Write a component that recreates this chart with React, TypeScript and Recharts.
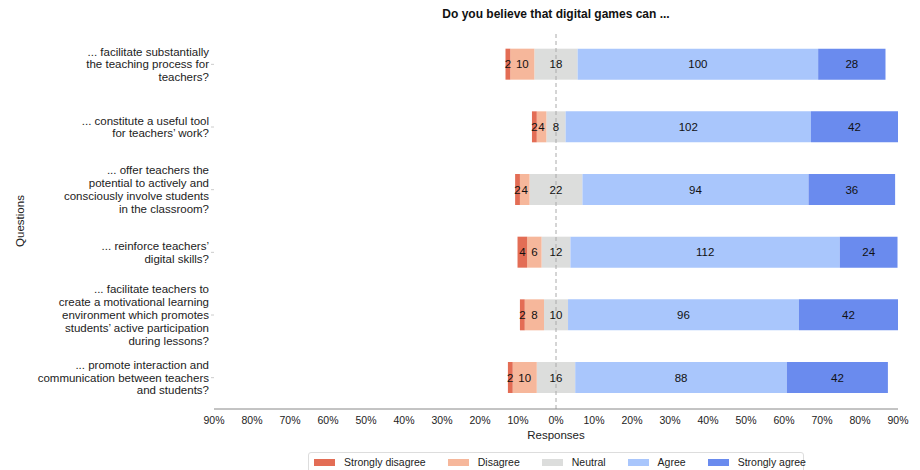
import React from 'react';
import { BarChart, Bar, XAxis, YAxis, LabelList, ReferenceLine } from 'recharts';

const questions = [
  '... facilitate substantially\nthe teaching process for\nteachers?',
  '... constitute a useful tool\nfor teachers\u2019 work?',
  '... offer teachers the\npotential to actively and\nconsciously involve students\nin the classroom?',
  '... reinforce teachers\u2019\ndigital skills?',
  '... facilitate teachers to\ncreate a motivational learning\nenvironment which promotes\nstudents\u2019 active participation\nduring lessons?',
  '... promote interaction and\ncommunication between teachers\nand students?',
];

const stronglyDisagree = [2, 2, 2, 4, 2, 2];
const disagree = [10, 4, 4, 6, 8, 10];
const neutral = [18, 8, 22, 12, 10, 16];
const agree = [100, 102, 94, 112, 96, 88];
const stronglyAgree = [28, 42, 36, 24, 42, 42];

const xTicks = [-90, -80, -70, -60, -50, -40, -30, -20, -10, 0, 10, 20, 30, 40, 50, 60, 70, 80, 90];

const COLORS = {
  sd: '#e36d55',
  d: '#f6b79b',
  n: '#dcdddc',
  a: '#a9c6fc',
  sa: '#6a8bee',
};

const legendItems = [
  { name: 'Strongly disagree', color: COLORS.sd },
  { name: 'Disagree', color: COLORS.d },
  { name: 'Neutral', color: COLORS.n },
  { name: 'Agree', color: COLORS.a },
  { name: 'Strongly agree', color: COLORS.sa },
];

// build percentages; neutral is split around zero
const data = questions.map((q, i) => {
  const total = stronglyDisagree[i] + disagree[i] + neutral[i] + agree[i] + stronglyAgree[i];
  const pct = (v: number) => (v / total) * 100;
  return {
    q,
    nN: -pct(neutral[i]) / 2,
    dN: -pct(disagree[i]),
    sdN: -pct(stronglyDisagree[i]),
    nP: pct(neutral[i]) / 2,
    aP: pct(agree[i]),
    saP: pct(stronglyAgree[i]),
    sdC: stronglyDisagree[i],
    dC: disagree[i],
    nC: neutral[i],
    aC: agree[i],
    saC: stronglyAgree[i],
  };
});

const FONT = 'Liberation Sans, Arial, sans-serif';

const centerLabel = (props: any) => {
  const { x, y, width, height, value } = props;
  return (
    <text x={x + width / 2} y={y + height / 2} dy="0.35em" textAnchor="middle" fontSize={11.5} fill="#111" fontFamily={FONT}>
      {value}
    </text>
  );
};

const zeroLabel = (props: any) => {
  const { x, y, height, value } = props;
  return (
    <text x={x} y={y + height / 2} dy="0.35em" textAnchor="middle" fontSize={11.5} fill="#111" fontFamily={FONT}>
      {value}
    </text>
  );
};

const QuestionTick = (props: any) => {
  const { y, payload } = props;
  const lines: string[] = String(payload.value).split('\n');
  const lh = 12.8;
  const start = -((lines.length - 1) * lh) / 2;
  const right = 209;
  return (
    <g>
      <line x1={211} x2={214} y1={y} y2={y} stroke="#ccc" strokeWidth={1} />
      <text x={right} y={y} textAnchor="end" fontSize={11.5} fill="#222" fontFamily={FONT}>
        {lines.map((l, i) => (
          <tspan key={i} x={right} y={y + start + i * lh} dy="0.35em">
            {l}
          </tspan>
        ))}
      </text>
    </g>
  );
};

const App = () => {
  return (
    <div style={{ position: 'absolute', left: 0, top: 0, width: 920, height: 470, background: '#fff', fontFamily: FONT }}>
      <div style={{ position: 'absolute', left: 214, width: 684, top: 7, textAlign: 'center', fontSize: 12, fontWeight: 'bold', color: '#111' }}>
        Do you believe that digital games can ...
      </div>
      <div
        style={{
          position: 'absolute',
          left: 20,
          top: 221,
          transform: 'translate(-50%, -50%) rotate(-90deg)',
          fontSize: 11.5,
          color: '#222',
          whiteSpace: 'nowrap',
        }}
      >
        Questions
      </div>
      <BarChart
        width={920}
        height={470}
        data={data}
        layout="vertical"
        stackOffset="sign"
        barCategoryGap="25%"
        margin={{ top: 33, right: 22, bottom: 31, left: 0 }}
      >
        <XAxis
          type="number"
          domain={[-90, 90]}
          ticks={xTicks}
          allowDataOverflow
          tickFormatter={(v: number) => `${Math.abs(v)}%`}
          tick={{ fontSize: 10.5, fill: '#222', fontFamily: FONT }}
          tickLine={false}
          axisLine={{ stroke: '#888' }}
          height={30}
          tickMargin={2}
          label={{ value: 'Responses', position: 'insideBottom', offset: 0, fontSize: 11.5, fill: '#222', fontFamily: FONT }}
        />
        <YAxis
          type="category"
          dataKey="q"
          width={214}
          axisLine={false}
          tickLine={false}
          tick={<QuestionTick />}
          interval={0}
        />
        <Bar dataKey="nN" stackId="s" fill={COLORS.n} isAnimationActive={false} />
        <Bar dataKey="dN" stackId="s" fill={COLORS.d} isAnimationActive={false}>
          <LabelList dataKey="dC" content={centerLabel} />
        </Bar>
        <Bar dataKey="sdN" stackId="s" fill={COLORS.sd} isAnimationActive={false}>
          <LabelList dataKey="sdC" content={centerLabel} />
        </Bar>
        <Bar dataKey="nP" stackId="s" fill={COLORS.n} isAnimationActive={false}>
          <LabelList dataKey="nC" content={zeroLabel} />
        </Bar>
        <Bar dataKey="aP" stackId="s" fill={COLORS.a} isAnimationActive={false}>
          <LabelList dataKey="aC" content={centerLabel} />
        </Bar>
        <Bar dataKey="saP" stackId="s" fill={COLORS.sa} isAnimationActive={false}>
          <LabelList dataKey="saC" content={centerLabel} />
        </Bar>
        <ReferenceLine x={0} stroke="#aaa" strokeDasharray="4 3" />
      </BarChart>
      <div
        style={{
          position: 'absolute',
          left: 308,
          top: 452,
          width: 496,
          height: 24,
          border: '1px solid #ddd',
          borderRadius: 3,
          boxSizing: 'border-box',
          display: 'flex',
          alignItems: 'flex-start',
          paddingLeft: 5,
          paddingTop: 3,
          fontSize: 10.5,
          color: '#222',
          whiteSpace: 'nowrap',
        }}
      >
        {legendItems.map((it) => (
          <div key={it.name} style={{ display: 'flex', alignItems: 'center', marginRight: 22, flexShrink: 0 }}>
            <span style={{ display: 'inline-block', width: 21, height: 7, background: it.color, marginRight: 9 }} />
            <span>{it.name}</span>
          </div>
        ))}
      </div>
    </div>
  );
};

export default App;
